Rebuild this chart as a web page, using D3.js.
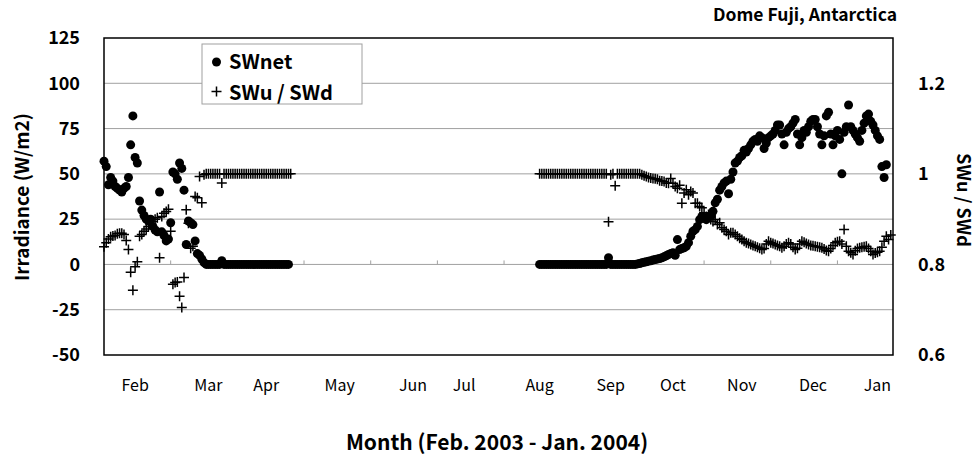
<!DOCTYPE html>
<html>
<head>
<meta charset="utf-8">
<script src="https://cdn.jsdelivr.net/npm/d3@7"></script>
<style>
  body { margin: 0; background: #fff; }
  text { font-family: "Noto Sans CJK JP", "Noto Sans", sans-serif; fill: #000; }
</style>
</head>
<body>
<svg id="chart" width="980" height="458"></svg>
<script>
// days counted from 1 Feb 2003
const months = ["Feb", "Mar", "Apr", "May", "Jun", "Jul", "Aug", "Sep", "Oct", "Nov", "Dec", "Jan"];
const monthLabelDays = [14, 47, 73, 106, 139, 162, 196, 228, 256, 287, 319, 348];
const leftTicks = [-50, -25, 0, 25, 50, 75, 100, 125];
const rightTicks = [0.6, 0.8, 1.0, 1.2];
const firstDays = [0, 196]; // 1 Feb and 16 Aug

// SWnet (W/m2), daily
const swnet1 = [57, 54, 44, 48, 46, 43, 42, 41, 40, 42,
  43, 48, 66, 82, 59, 56, 35, 30, 27, 25,
  24, 25, 21, 19, 18, 40, 18, 16, 13, 14,
  23, 51, 50, 47, 56, 53, 41, 11, 24, 23,
  22, 13, 6, 5, 3, 1, 0, 0, 0, 0,
  0, 0, 0, 2, 0, 0, 0, 0, 0, 0,
  0, 0, 0, 0, 0, 0, 0, 0, 0, 0,
  0, 0, 0, 0, 0, 0, 0, 0, 0, 0,
  0, 0, 0, 0];
const swnet2 = [0, 0, 0, 0, 0, 0, 0, 0, 0, 0,
  0, 0, 0, 0, 0, 0, 0, 0, 0, 0,
  0, 0, 0, 0, 0, 0, 0, 0, 0, 0,
  0, 3.7, 0, 0, 0, 0, 0, 0, 0, 0,
  0, 0, 0, 0, 0.3, 0.5, 0.9, 1.2, 1.5, 1.8,
  2.0, 2.4, 2.7, 3.0, 3.3, 3.7, 4.2, 4.8, 5.5, 6.0,
  6.4, 5.0, 13.7, 8.2, 8.8, 9.2, 10, 12, 15.6, 18.3,
  19.2, 21, 24.7, 26.5, 25.6, 24.7, 26.5, 26.5, 29.3, 34,
  36, 41, 43, 45, 46, 39, 47, 51, 56, 57,
  59, 60, 63, 62, 64, 66, 68, 69, 68, 71,
  70, 64, 67, 70, 71, 72, 74, 77, 77, 72,
  66, 73, 75, 76, 78, 80, 72, 66, 70, 74,
  73, 76, 79, 80, 80, 76, 72, 66, 71, 82,
  84, 72, 66, 71, 74, 69, 50, 73, 76, 88,
  76, 74, 72, 70, 68, 74, 78, 82, 83, 79,
  77, 74, 71, 69, 54, 48, 55];

// SWu / SWd, daily
const ratio1 = [0.839, 0.848, 0.856, 0.861, 0.863, 0.864, 0.868, 0.869, 0.869, 0.866,
  0.853, 0.833, 0.783, 0.743, 0.795, 0.806, 0.862, 0.866, 0.873, 0.878,
  0.884, 0.890, 0.895, 0.900, 0.903, 0.815, 0.906, 0.913, 0.917, 0.922,
  0.873, 0.756, 0.760, 0.761, 0.730, 0.705, 0.771, 0.921, 0.891, 0.836,
  0.840, 0.950, 0.947, 0.994, 0.936, 0.998, 1.0, 1.0, 1.0, 1.0,
  1.0, 1.0, 1.0, 0.980, 1.0, 1.0, 1.0, 1.0, 1.0, 1.0,
  1.0, 1.0, 1.0, 1.0, 1.0, 1.0, 1.0, 1.0, 1.0, 1.0,
  1.0, 1.0, 1.0, 1.0, 1.0, 1.0, 1.0, 1.0, 1.0, 1.0,
  1.0, 1.0, 1.0, 1.0, 1.0];
const ratio2 = [1.0, 1.0, 1.0, 1.0, 1.0, 1.0, 1.0, 1.0, 1.0, 1.0,
  1.0, 1.0, 1.0, 1.0, 1.0, 1.0, 1.0, 1.0, 1.0, 1.0,
  1.0, 1.0, 1.0, 1.0, 1.0, 1.0, 1.0, 1.0, 1.0, 1.0,
  1.0, 0.894, 0.998, 1.0, 0.974, 1.0, 1.0, 1.0, 1.0, 1.0,
  1.0, 1.0, 1.0, 1.0, 1.0, 1.0, 0.998, 0.996, 0.994, 0.992,
  0.991, 0.990, 0.989, 0.988, 0.985, 0.984, 0.983, 0.980, 0.979, 0.990,
  0.979, 0.972, 0.968, 0.975, 0.935, 0.958, 0.965, 0.954, 0.961, 0.958,
  0.935, 0.935, 0.928, 0.925, 0.914, 0.906, 0.910, 0.899, 0.895, 0.899,
  0.888, 0.892, 0.881, 0.877, 0.873, 0.866, 0.870, 0.870, 0.866, 0.862,
  0.858, 0.855, 0.851, 0.848, 0.846, 0.844, 0.842, 0.840, 0.838, 0.836,
  0.833, 0.835, 0.845, 0.851, 0.848, 0.846, 0.844, 0.842, 0.840, 0.837,
  0.840, 0.845, 0.848, 0.845, 0.838, 0.833, 0.836, 0.845, 0.851, 0.849,
  0.846, 0.844, 0.842, 0.841, 0.840, 0.839, 0.838, 0.837, 0.834, 0.831,
  0.829, 0.835, 0.842, 0.848, 0.850, 0.851, 0.845, 0.877, 0.840, 0.829,
  0.826, 0.822, 0.830, 0.835, 0.837, 0.838, 0.839, 0.840, 0.835, 0.829,
  0.822, 0.825, 0.827, 0.829, 0.838, 0.851, 0.862, 0.855, 0.865];

const svg = d3.select("#chart");
const plotLeft = 104, plotRight = 893, plotTop = 38, plotBottom = 355;

const x = d3.scaleLinear().domain([0, 355]).range([plotLeft, plotRight]);
const y = d3.scaleLinear().domain([-50, 125]).range([plotBottom, plotTop]);
const yR = d3.scaleLinear().domain([0.6, 1.3]).range([plotBottom, plotTop]);

// horizontal grid
svg.append("g")
  .selectAll("line")
  .data(leftTicks.filter(d => d > -50 && d < 125))
  .join("line")
  .attr("x1", plotLeft).attr("x2", plotRight)
  .attr("y1", d => y(d)).attr("y2", d => y(d))
  .attr("stroke", "#a0a0a0").attr("stroke-width", 1);

// x axis sits on the zero line, ticks point up
svg.append("g")
  .selectAll("line")
  .data(d3.range(30, 355, 30))
  .join("line")
  .attr("x1", d => x(d)).attr("x2", d => x(d))
  .attr("y1", y(0)).attr("y2", y(0) - 4)
  .attr("stroke", "#a0a0a0").attr("stroke-width", 1);

// left / right axes (labels only)
const yAxis = svg.append("g")
  .attr("transform", `translate(${plotLeft},0)`)
  .call(d3.axisLeft(y).tickValues(leftTicks).tickSize(0).tickPadding(24).tickFormat(d => String(d)));
const yAxisR = svg.append("g")
  .attr("transform", `translate(${plotRight},0)`)
  .call(d3.axisRight(yR).tickValues(rightTicks).tickSize(0).tickPadding(25).tickFormat(d => d === 1 ? "1" : d3.format(".1f")(d)));
[yAxis, yAxisR].forEach(g => {
  g.select(".domain").remove();
  g.selectAll("text").attr("font-size", 18).attr("font-weight", "bold")
    .attr("font-family", "'Noto Sans CJK JP', sans-serif").attr("fill", "#000");
});

// month labels
svg.append("g")
  .selectAll("text")
  .data(months)
  .join("text")
  .attr("x", (d, i) => x(monthLabelDays[i]))
  .attr("y", 391)
  .attr("text-anchor", "middle")
  .attr("font-size", 16)
  .text(d => d);

// series
const toPoints = (vals, start) => vals.map((v, i) => ({ day: start + i, v: v }));
const netPts = toPoints(swnet1, firstDays[0]).concat(toPoints(swnet2, firstDays[1]));
const ratioPts = toPoints(ratio1, firstDays[0]).concat(toPoints(ratio2, firstDays[1]));

svg.append("g")
  .selectAll("circle")
  .data(netPts)
  .join("circle")
  .attr("cx", d => x(d.day))
  .attr("cy", d => y(d.v))
  .attr("r", 4.5)
  .attr("fill", "#000");

const plusPath = (cx, cy, s) => `M${cx - s},${cy}H${cx + s}M${cx},${cy - s}V${cy + s}`;
svg.append("g")
  .selectAll("path")
  .data(ratioPts)
  .join("path")
  .attr("d", d => plusPath(x(d.day), yR(d.v), 5))
  .attr("stroke", "#000")
  .attr("stroke-width", 1.5)
  .attr("fill", "none");

// frame
svg.append("rect")
  .attr("x", plotLeft).attr("y", plotTop)
  .attr("width", plotRight - plotLeft).attr("height", plotBottom - plotTop)
  .attr("fill", "none").attr("stroke", "#000").attr("stroke-width", 1.5);

// legend
const lg = svg.append("g").attr("transform", "translate(202,44)");
lg.append("rect").attr("width", 160).attr("height", 60)
  .attr("fill", "#fff").attr("stroke", "#a0a0a0").attr("stroke-width", 1);
lg.append("circle").attr("cx", 14.5).attr("cy", 18).attr("r", 4.5).attr("fill", "#000");
lg.append("path").attr("d", plusPath(14.5, 47.5, 5)).attr("stroke", "#000").attr("stroke-width", 1.5);
lg.append("text").attr("x", 27).attr("y", 24.5).attr("font-size", 20).attr("font-weight", "bold").text("SWnet");
lg.append("text").attr("x", 27).attr("y", 56).attr("font-size", 20).attr("font-weight", "bold").text("SWu / SWd");

// titles
svg.append("text")
  .attr("x", 897).attr("y", 21)
  .attr("text-anchor", "end")
  .attr("font-size", 17.5).attr("font-weight", "bold")
  .text("Dome Fuji, Antarctica");

svg.append("text")
  .attr("transform", "translate(29,197) rotate(-90)")
  .attr("text-anchor", "middle")
  .attr("font-size", 19).attr("font-weight", "bold")
  .text("Irradiance (W/m2)");

svg.append("text")
  .attr("transform", "translate(957,200) rotate(90)")
  .attr("text-anchor", "middle")
  .attr("font-size", 18).attr("font-weight", "bold")
  .text("SWu / SWd");

svg.append("text")
  .attr("x", 497).attr("y", 450)
  .attr("text-anchor", "middle")
  .attr("font-size", 21).attr("font-weight", "bold")
  .text("Month (Feb. 2003 - Jan. 2004)");
</script>
</body>
</html>
